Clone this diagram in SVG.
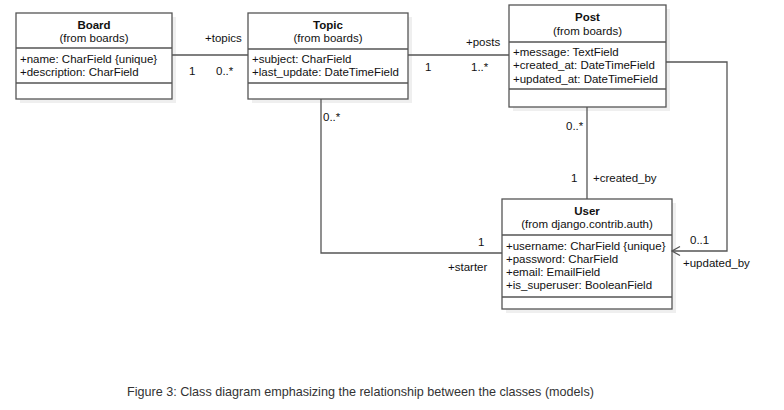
<svg xmlns="http://www.w3.org/2000/svg" width="784" height="410" viewBox="0 0 784 410">
<defs>
<style>
.box{fill:#fff;stroke:#555;stroke-width:1.3}
.sh{fill:#efefef}
.sep{stroke:#555;stroke-width:1.3}
text{font-family:"Liberation Sans",Arial,sans-serif;font-size:11.5px;fill:#111}
.t{font-weight:bold;text-anchor:middle}
.c{text-anchor:middle}
.con{fill:none;stroke:#555;stroke-width:1.3}
.cap{font-size:12.6px;fill:#333}
</style>
</defs>
<rect width="784" height="410" fill="#fff"/>
<g id="Board">
<rect class="sh" x="20" y="17" width="156" height="86"/>
<rect class="box" x="16" y="13" width="156" height="86"/>
<line class="sep" x1="16" y1="48" x2="172" y2="48"/>
<line class="sep" x1="16" y1="83" x2="172" y2="83"/>
<text class="t" x="94" y="28.5">Board</text>
<text class="c" x="94" y="41.5">(from boards)</text>
<text x="20" y="63">+name: CharField {unique}</text>
<text x="20" y="76">+description: CharField</text>
</g>
<g id="Topic">
<rect class="sh" x="252" y="17" width="160" height="86"/>
<rect class="box" x="248" y="13" width="160" height="86"/>
<line class="sep" x1="248" y1="49" x2="408" y2="49"/>
<line class="sep" x1="248" y1="83" x2="408" y2="83"/>
<text class="t" x="328" y="28.5">Topic</text>
<text class="c" x="328" y="41.5">(from boards)</text>
<text x="252" y="63">+subject: CharField</text>
<text x="252" y="76">+last_update: DateTimeField</text>
</g>
<g id="Post">
<rect class="sh" x="513" y="9" width="157" height="102"/>
<rect class="box" x="509" y="5" width="157" height="102"/>
<line class="sep" x1="509" y1="42" x2="666" y2="42"/>
<line class="sep" x1="509" y1="89" x2="666" y2="89"/>
<text class="t" x="587.5" y="20.5">Post</text>
<text class="c" x="587.5" y="34.5">(from boards)</text>
<text x="513" y="56">+message: TextField</text>
<text x="513" y="69">+created_at: DateTimeField</text>
<text x="513" y="82.5">+updated_at: DateTimeField</text>
</g>
<g id="User">
<rect class="sh" x="506" y="203" width="170" height="110"/>
<rect class="box" x="502" y="199" width="170" height="110"/>
<line class="sep" x1="502" y1="235" x2="672" y2="235"/>
<line class="sep" x1="502" y1="297" x2="672" y2="297"/>
<text class="t" x="587" y="214.5">User</text>
<text class="c" x="587" y="227.5">(from django.contrib.auth)</text>
<text x="506" y="249.5">+username: CharField {unique}</text>
<text x="506" y="262.8">+password: CharField</text>
<text x="506" y="276">+email: EmailField</text>
<text x="506" y="289.3">+is_superuser: BooleanField</text>
</g>
<g id="connectors">
<line class="con" x1="172" y1="55" x2="248" y2="55"/>
<text x="205" y="41.5">+topics</text>
<text x="189" y="75">1</text>
<text x="216" y="75">0..*</text>
<line class="con" x1="408" y1="55" x2="509" y2="55"/>
<text x="466" y="46">+posts</text>
<text x="425" y="71">1</text>
<text x="471" y="71">1..*</text>
<polyline class="con" points="321,99 321,253 502,253"/>
<text x="323" y="121">0..*</text>
<text x="478" y="246">1</text>
<text x="448" y="271">+starter</text>
<line class="con" x1="587" y1="107" x2="587" y2="199"/>
<text x="566" y="130">0..*</text>
<text x="571" y="182">1</text>
<text x="593" y="182">+created_by</text>
<polyline class="con" points="666,62 727,62 727,251 672,251"/>
<polyline class="con" points="680,246.5 672,251 680,255.5"/>
<text x="690" y="244">0..1</text>
<text x="683" y="267">+updated_by</text>
</g>
<text class="cap" x="127" y="396">Figure 3: Class diagram emphasizing the relationship between the classes (models)</text>
</svg>
